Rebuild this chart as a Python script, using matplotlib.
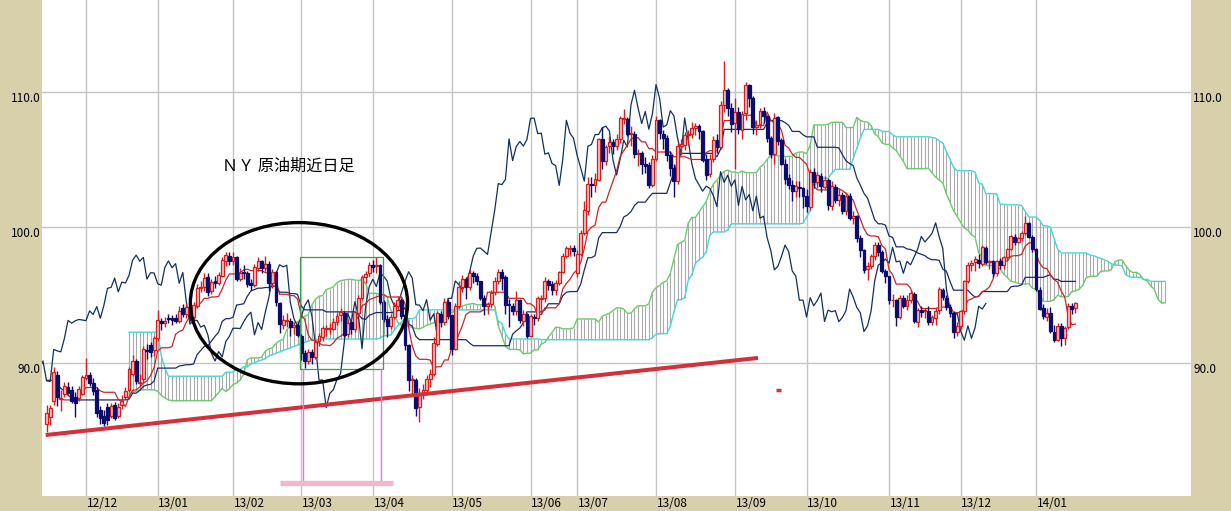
import numpy as np
import matplotlib
matplotlib.use('Agg')
import matplotlib.pyplot as plt
from matplotlib.patches import Ellipse, Rectangle

plt.rcParams['font.family'] = ['Noto Sans CJK JP', 'DejaVu Sans']

# ---------------- data (daily candles, NY crude nearby) ----------------
opens = [85.5, 86.0, 87.2, 89.1, 87.3, 87.7, 88.2, 88.0, 87.5, 87.4, 87.7,
         88.85, 89.1, 88.5, 88.0, 86.5, 86.1, 86.7, 86.1, 86.9, 86.1, 86.9, 87.5, 88.0, 89.2, 90.1, 88.5, 88.8, 90.9, 91.3, 90.9,
         91.8, 93.1, 92.9, 93.3, 93.3, 93.3, 93.1, 94.0, 93.6, 94.0, 93.4, 94.2, 95.5, 95.6, 96.3, 95.3, 96.0, 95.9, 96.4, 97.5, 97.9,
         97.5, 97.8, 96.2, 96.7, 96.6, 95.9, 95.7, 97.0, 97.5, 97.0, 97.3, 95.9, 96.7, 94.4, 92.8, 93.1, 93.1, 92.6, 92.8,
         92.0, 90.7, 90.1, 90.8, 90.4, 91.6, 91.9, 92.5, 92.5, 92.5, 93.0, 93.5, 93.7, 92.1, 93.0, 92.5, 93.7, 94.8, 96.3, 96.6,
         97.2, 97.1, 97.2, 94.5, 93.2, 92.7, 93.4, 94.2, 94.6, 93.5, 91.3, 88.7, 88.7, 86.7, 87.7, 88.0, 88.8, 89.2, 91.4, 93.6, 93.0, 94.5,
         93.5, 91.0, 94.2, 95.6, 96.2, 95.6, 96.6, 96.4, 96.0, 94.8, 94.2, 94.3, 95.2, 96.0, 96.7, 96.3, 94.3, 94.2, 93.8, 94.6, 93.1, 93.6,
         92.0, 93.4, 93.3, 94.7, 94.8, 96.0, 95.8, 95.4, 95.9, 96.7, 97.9, 98.4, 98.5,
         96.6, 98.0, 99.6, 101.2, 103.2, 103.1, 103.5, 106.5, 104.9, 106.0, 106.3, 106.0, 106.5, 108.0, 108.0, 106.9, 106.9, 105.4, 105.5, 104.7, 104.6, 103.1,
         105.0, 107.9, 106.9, 106.6, 105.3, 104.4, 103.4, 106.0, 106.1, 106.8, 106.9, 107.3, 107.5, 107.1, 105.0, 103.9, 105.0, 106.4, 105.9, 109.0, 110.1, 108.8,
         107.7, 108.5, 107.2, 108.4, 110.5, 109.5, 107.4, 107.6, 108.6, 108.2, 106.6, 105.4, 108.1, 106.4, 104.7, 103.6, 103.1, 102.7, 103.0, 102.9,
         102.3, 101.5, 104.1, 103.3, 103.8, 103.0, 103.5, 101.6, 103.0, 102.0, 102.4, 101.2, 102.3, 100.7, 100.8, 99.2, 98.3, 96.9, 97.1, 97.9, 98.7, 98.2, 96.8,
         96.4, 94.6, 94.6, 93.4, 94.8, 94.2, 94.6, 95.1, 93.0, 93.9, 93.8, 93.8, 93.0, 93.3, 93.9, 95.4, 94.8, 94.1, 93.7, 92.3,
         92.7, 93.8, 96.0, 97.2, 97.4, 97.6, 97.3, 98.5, 97.4, 97.5, 96.6, 97.5, 97.2, 97.8, 98.4, 99.3, 98.9, 99.2, 99.6, 100.3, 99.3,
         98.4, 95.4, 94.0, 93.4, 93.7, 92.3, 91.7, 92.7, 91.8, 92.6, 94.2, 94.0]

highs = [86.9, 86.9, 89.7, 89.4, 88.0, 88.6, 88.6, 88.3, 87.8, 88.3, 89.1,
         90.33, 89.3, 88.9, 88.2, 86.8, 86.5, 87.0, 87.0, 87.1, 87.0, 87.6, 88.2, 89.7, 90.6, 90.3, 89.2, 91.2, 91.4, 91.5, 92.0,
         93.9, 93.3, 93.4, 93.6, 93.5, 93.6, 94.2, 94.3, 94.4, 94.3, 94.5, 95.8, 96.0, 96.6, 96.6, 96.2, 96.4, 96.7, 97.8, 98.2, 98.2,
         98.2, 97.9, 97.0, 97.2, 96.8, 96.2, 97.3, 97.8, 97.6, 97.9, 97.5, 96.9, 96.8, 94.5, 93.5, 93.7, 93.3, 93.0, 93.0,
         92.1, 90.9, 91.0, 91.0, 91.7, 92.2, 92.7, 92.8, 92.9, 93.3, 93.7, 94.0, 93.8, 93.2, 93.1, 93.8, 95.0, 96.5, 96.8, 97.4,
         97.6, 97.8, 97.3, 94.6, 93.5, 93.6, 94.5, 94.9, 94.8, 93.6, 91.4, 89.1, 88.9, 88.1, 88.4, 89.1, 89.5, 91.9, 93.8, 93.8, 94.8, 94.7,
         93.5, 94.4, 96.0, 96.5, 96.3, 96.9, 96.8, 96.6, 96.0, 95.0, 94.5, 95.4, 96.3, 96.9, 96.9, 96.5, 94.7, 94.4, 95.3, 94.7, 93.9, 93.7,
         93.6, 93.6, 94.9, 95.0, 96.3, 96.2, 96.0, 96.1, 96.8, 98.1, 98.6, 98.7, 98.7,
         98.3, 99.8, 101.9, 103.7, 103.7, 104.0, 106.6, 107.4, 106.1, 106.7, 106.5, 106.9, 108.2, 108.7, 108.1, 107.5, 107.1, 105.8, 105.6, 105.2, 104.8, 105.3,
         108.2, 108.0, 107.2, 106.8, 105.6, 104.7, 106.2, 106.5, 107.0, 107.2, 107.8, 107.7, 107.6, 107.2, 105.4, 105.4, 106.7, 106.9, 109.3, 112.24, 110.3, 109.2,
         109.5, 108.9, 108.6, 110.7, 110.6, 109.7, 107.9, 108.8, 108.9, 108.3, 106.7, 108.4, 108.2, 106.6, 105.0, 103.9, 103.5, 103.4, 103.4, 103.0,
         102.8, 104.3, 104.4, 104.1, 104.0, 103.8, 103.6, 103.4, 103.2, 102.8, 102.6, 102.6, 102.5, 101.2, 100.9, 99.4, 98.4, 97.4, 98.0, 98.9, 98.9, 98.3, 96.9,
         96.4, 95.1, 94.7, 95.0, 95.0, 95.0, 95.4, 95.2, 94.0, 94.2, 94.0, 94.2, 93.5, 94.0, 95.6, 95.5, 95.0, 94.3, 93.8, 93.0,
         93.9, 96.1, 97.4, 97.6, 97.9, 98.0, 98.7, 98.6, 97.6, 97.6, 97.6, 97.7, 97.9, 98.5, 99.4, 99.5, 99.3, 99.7, 100.8, 100.4, 99.4,
         98.5, 95.6, 94.3, 94.0, 94.1, 92.8, 92.9, 92.9, 92.7, 94.4, 94.4, 94.5]

lows = [84.9, 85.4, 86.9, 86.8, 86.4, 87.5, 87.7, 87.0, 86.0, 87.2, 87.6,
        88.7, 88.3, 87.6, 86.0, 85.5, 85.3, 85.4, 85.9, 85.8, 85.9, 86.6, 87.3, 87.8, 89.0, 88.4, 88.3, 88.5, 90.3, 90.4, 90.5,
        91.6, 92.4, 92.6, 92.9, 92.8, 92.9, 92.9, 93.4, 93.3, 93.1, 93.1, 94.0, 95.2, 95.3, 94.9, 95.1, 95.5, 95.7, 96.3, 97.1, 97.2,
        97.2, 96.0, 96.0, 96.2, 95.6, 95.4, 95.6, 96.8, 96.6, 96.8, 95.3, 95.5, 94.2, 92.2, 92.5, 92.6, 92.0, 92.1, 91.9,
        90.2, 89.6, 89.9, 89.9, 90.3, 91.2, 91.6, 92.0, 92.1, 92.4, 92.8, 93.1, 91.9, 91.9, 92.1, 92.3, 93.5, 94.6, 95.9, 96.3,
        96.7, 96.6, 94.3, 93.0, 91.9, 92.5, 93.2, 93.9, 93.2, 90.9, 87.9, 87.6, 86.1, 85.6, 87.3, 87.8, 88.2, 89.0, 91.2, 92.6, 92.8, 93.2,
        90.6, 90.9, 94.0, 95.2, 94.7, 95.4, 95.9, 95.7, 94.6, 93.5, 93.6, 94.1, 95.0, 95.8, 95.4, 93.6, 92.6, 93.5, 93.5, 92.9, 92.7, 91.8,
        91.9, 92.8, 93.1, 93.6, 94.5, 95.4, 95.0, 95.0, 95.7, 96.6, 97.7, 97.9, 97.9,
        96.3, 97.9, 99.4, 100.9, 102.2, 102.6, 103.4, 104.3, 104.6, 105.5, 105.4, 105.7, 106.2, 107.6, 106.7, 106.0, 105.1, 104.5, 103.9, 104.0, 102.9, 103.0,
        104.9, 106.5, 105.8, 104.9, 103.8, 102.2, 103.2, 105.3, 105.7, 106.1, 106.6, 106.8, 106.5, 104.8, 103.5, 103.7, 104.8, 105.5, 105.8, 108.5, 108.2, 107.0,
        104.3, 106.9, 106.5, 107.9, 108.9, 106.9, 106.8, 107.3, 107.7, 106.3, 105.1, 104.7, 106.1, 104.6, 103.2, 102.8, 101.9, 102.2, 102.2, 101.4,
        101.1, 101.3, 102.9, 102.9, 102.6, 102.8, 101.3, 101.3, 101.8, 101.6, 101.0, 100.9, 100.5, 100.2, 98.9, 97.8, 96.6, 96.1, 96.9, 97.6, 97.9, 96.6, 95.9,
        94.3, 94.1, 92.7, 93.2, 94.0, 93.9, 94.4, 92.9, 92.6, 93.4, 93.3, 92.8, 92.8, 92.8, 93.6, 94.6, 93.9, 93.4, 91.8, 92.0,
        92.5, 93.6, 95.9, 96.8, 96.8, 97.0, 97.1, 97.3, 96.9, 96.3, 96.4, 96.9, 96.9, 97.6, 98.3, 98.7, 98.8, 99.0, 99.4, 99.2, 98.2,
        95.3, 93.9, 93.2, 93.1, 92.2, 91.5, 91.6, 91.2, 91.3, 92.5, 93.6, 93.7]

closes = [86.3, 86.67, 89.28, 87.5, 87.38, 88.28, 87.74, 87.18, 87.0, 88.07, 88.91,
          89.09, 88.49, 87.88, 86.26, 85.93, 85.56, 85.80, 86.77, 85.89, 86.73, 87.20, 87.93, 89.51, 90.13, 88.66, 88.61, 90.98, 90.87, 90.80, 91.82,
          93.12, 92.92, 93.09, 93.19, 93.15, 93.10, 93.82, 93.56, 94.14, 93.28, 94.24, 95.49, 95.56, 96.24, 95.23, 95.95, 95.88, 96.44, 97.57, 97.94, 97.49,
          97.77, 96.17, 96.64, 96.62, 95.83, 95.72, 97.03, 97.51, 97.01, 97.31, 95.86, 96.66, 94.46, 92.84, 93.13, 93.11, 92.63, 92.76, 92.05,
          90.68, 90.12, 90.82, 90.43, 91.56, 91.95, 92.54, 92.54, 92.52, 93.03, 93.45, 93.73, 92.06, 92.96, 92.45, 93.71, 94.81, 96.34, 96.58, 97.23,
          97.07, 97.19, 94.45, 93.26, 92.70, 93.36, 94.20, 94.64, 93.46, 91.29, 88.71, 88.72, 86.68, 87.73, 88.01, 88.76, 89.18, 91.44, 93.64, 92.99, 94.50, 93.46,
          91.03, 94.16, 95.61, 96.16, 95.62, 96.62, 96.39, 96.04, 94.80, 94.21, 94.30, 95.16, 96.02, 96.71, 96.25, 94.28, 94.25, 93.84, 94.65, 93.13, 93.61, 91.97,
          93.45, 93.31, 94.74, 94.76, 96.03, 95.77, 95.38, 95.88, 96.69, 97.85, 98.44, 98.46, 98.24,
          97.99, 99.60, 101.24, 103.22, 103.14, 103.53, 106.52, 104.91, 105.95, 106.32, 105.99, 106.48, 108.04, 108.05, 106.91, 106.94, 105.39, 105.49, 104.70, 104.55, 103.08, 105.03,
          107.89, 106.94, 106.56, 105.30, 104.37, 103.40, 105.97, 106.11, 106.83, 106.85, 107.33, 107.46, 107.10, 104.96, 103.85, 105.03, 106.42, 105.92, 109.01, 110.10, 108.80, 107.65,
          108.54, 107.23, 108.37, 110.53, 109.52, 107.39, 107.55, 108.60, 108.21, 106.59, 105.42, 108.07, 106.39, 104.67, 103.59, 103.13, 102.66, 103.03, 102.87, 102.33,
          101.53, 104.10, 103.31, 103.84, 103.03, 103.49, 101.61, 103.01, 102.02, 102.41, 101.21, 102.29, 100.67, 100.81, 99.22, 98.30, 96.86, 97.11, 97.85, 98.68, 98.20, 96.77, 96.38,
          94.61, 94.62, 93.37, 94.80, 94.20, 94.60, 95.14, 93.04, 93.88, 93.76, 93.84, 93.03, 93.34, 93.85, 95.44, 94.84, 94.09, 93.68, 92.30, 92.72,
          93.82, 96.04, 97.20, 97.38, 97.65, 97.34, 98.51, 97.44, 97.50, 96.60, 97.48, 97.22, 97.80, 98.40, 99.32, 98.91, 99.22, 99.55, 100.32, 99.29, 98.42,
          95.44, 93.96, 93.43, 93.67, 92.33, 91.66, 92.72, 91.80, 92.59, 94.17, 93.96, 94.37]

# month-start bar indices and labels
month_start_idx = [11, 31, 52, 71, 91, 113, 135, 148, 170, 192, 212, 235, 255, 276]
month_labels = ['12/12', '13/01', '13/02', '13/03', '13/04', '13/05', '13/06',
                '13/07', '13/08', '13/09', '13/10', '13/11', '13/12', '14/01']
y_ticks = [90.0, 100.0, 110.0]

# indicator values before enough history exists in the window
tenkan_pre = [np.nan, np.nan, 87.5, 87.5, 87.3, 87.25, 87.25, 87.25]
kijun_pre = [88.7, 88.7, 88.7, 88.4, 88.1, 87.9, 87.6, 87.4, 87.3, 87.25, 87.25, 87.25,
             87.25, 87.25, 87.25, 87.25, 87.25, 87.25, 87.25, 87.25, 87.25, 87.25, 87.25,
             87.3, 87.75]
senkou_a_pre = [87.7, 87.8, 87.9, 88.0, 88.0, 88.0, 88.0, 88.0, 87.9, 87.6, 87.4, 87.25,
                87.2, 87.2, 87.2, 87.2, 87.2, 87.2, 87.2, 87.2, 87.2, 87.2, 87.2, 87.2,
                87.5, 87.8, 88.1]                     # displayed at bars 23..49
senkou_b_pre = [92.25] * 9 + [90.5, 89.6, 89.0] + [89.0] * 13 + \
               [89.0, 89.0, 89.3, 89.3, 89.3, 89.5, 89.5, 89.7, 89.7, 89.9, 90.0, 90.1,
                90.2, 90.3, 90.5, 90.6, 90.7, 90.8, 90.9, 91.0, 91.1, 91.2, 91.3, 91.4,
                91.5, 91.6, 91.7, 91.8]               # displayed at bars 23..75
title_text = 'ＮＹ 原油期近日足'

# ---------------- indicators ----------------
n = min(len(opens), len(highs), len(lows), len(closes))
O = np.array(opens[:n]); H = np.array(highs[:n]); L = np.array(lows[:n]); C = np.array(closes[:n])
SHIFT = 25


def midpoint(period, i):
    return (H[i - period + 1:i + 1].max() + L[i - period + 1:i + 1].min()) / 2.0


tenkan = np.full(n, np.nan)
tenkan[:8] = tenkan_pre
for i in range(8, n):
    tenkan[i] = midpoint(9, i)
kijun = np.full(n, np.nan)
kijun[:25] = kijun_pre
for i in range(25, n):
    kijun[i] = midpoint(26, i)
m = n + SHIFT
span_a = np.full(m, np.nan)
span_a[23:23 + len(senkou_a_pre)] = senkou_a_pre
for i in range(25, n):
    span_a[i + SHIFT] = (tenkan[i] + kijun[i]) / 2.0
span_b = np.full(m, np.nan)
span_b[23:23 + len(senkou_b_pre)] = senkou_b_pre
for i in range(51, n):
    span_b[i + SHIFT] = midpoint(52, i)

# ---------------- figure ----------------
TAN = '#D8D0AA'
fig = plt.figure(figsize=(12.31, 5.11), dpi=100, facecolor=TAN)
ax = fig.add_axes([42 / 1231, 1 - 496 / 511, (1191 - 42) / 1231, 496 / 511])
ax.set_facecolor('white')
for s in ax.spines.values():
    s.set_visible(False)
ax.set_xlim(-1.27, 319.23)
ax.set_ylim(80.16, 116.77)
ax.set_xticks([]); ax.set_yticks([])

GRID = '#C4C4C4'
for xi in month_start_idx:
    ax.axvline(xi, color=GRID, lw=1.0, zorder=0.5)
for yv in y_ticks:
    ax.axhline(yv, color=GRID, lw=1.0, zorder=0.5)

# cloud hatch
xs = np.arange(m)
ok = ~np.isnan(span_a) & ~np.isnan(span_b)
ax.vlines(xs[ok], np.minimum(span_a, span_b)[ok], np.maximum(span_a, span_b)[ok],
          color='#A9A9A9', lw=0.8, zorder=1)
ax.plot(xs, span_a, color='#6CCB6C', lw=1.0, zorder=2)
ax.plot(xs, span_b, color='#48D6D6', lw=1.0, zorder=2)

# lines
xb = np.arange(n)
ax.plot(xb - SHIFT, C, color='#12305C', lw=0.9, zorder=2.5)     # chikou
ax.plot(xb, kijun, color='#1C2A6E', lw=0.9, zorder=2.6)         # kijun
ax.plot(xb, tenkan, color='#C62828', lw=0.9, zorder=2.7)        # tenkan

# candles
RED = '#D41E1E'; NAVY = '#0C0C6C'
up = C >= O
ax.vlines(xb[up], L[up], H[up], color=RED, lw=1.0, zorder=3)
ax.vlines(xb[~up], L[~up], H[~up], color=NAVY, lw=1.0, zorder=3)
bh_up = np.maximum(C[up] - O[up], 0.06)
bh_dn = np.maximum(O[~up] - C[~up], 0.06)
ax.bar(xb[up], bh_up, bottom=O[up], width=0.8, facecolor='#F8C4C4', edgecolor=RED, lw=0.9, zorder=4)
ax.bar(xb[~up], bh_dn, bottom=C[~up], width=0.8, facecolor=NAVY, edgecolor=NAVY, lw=0.9, zorder=4)

# annotations
ax.plot([-0.24, 198.45], [84.66, 90.35], color='#D3303C', lw=2.9, solid_capstyle='butt', zorder=5)
ax.plot([203.6, 205.0], [87.99, 87.99], color='#D3303C', lw=2.5, solid_capstyle='butt', zorder=5)
ax.add_patch(Ellipse((70.41, 94.39), 60.6, 11.9, fill=False, edgecolor='black', lw=2.4, zorder=6))
ax.add_patch(Rectangle((70.7, 89.53), 23.23, 8.29, fill=False, edgecolor='#3E9B4F', lw=0.9, zorder=5))
for xv in (71.45, 93.29):
    ax.plot([xv, xv], [89.53, 81.2], color='#E07AD8', lw=1.0, zorder=5)
ax.plot([65.1, 96.55], [81.14, 81.14], color='#F5B5CB', lw=3.8, solid_capstyle='butt', zorder=5)
ax.text(48.9, 104.52, title_text, fontsize=11.6, ha='left', va='center', color='black', zorder=7)

# axis labels
for yv in y_ticks:
    ax.annotate(f'{yv:.1f}', xy=(0, yv), xycoords=('axes fraction', 'data'), xytext=(-1, 0),
                textcoords='offset points', ha='right', va='top', fontsize=8.5, annotation_clip=False)
    ax.annotate(f'{yv:.1f}', xy=(1, yv), xycoords=('axes fraction', 'data'), xytext=(1.5, 0),
                textcoords='offset points', ha='left', va='top', fontsize=8.5, annotation_clip=False)
for xi, lab in zip(month_start_idx, month_labels):
    ax.annotate(lab, xy=(xi, 0), xycoords=('data', 'axes fraction'), xytext=(0.5, -0.5),
                textcoords='offset points', ha='left', va='top', fontsize=8.5, annotation_clip=False)

fig.savefig('out.png', dpi=100, facecolor=TAN)
